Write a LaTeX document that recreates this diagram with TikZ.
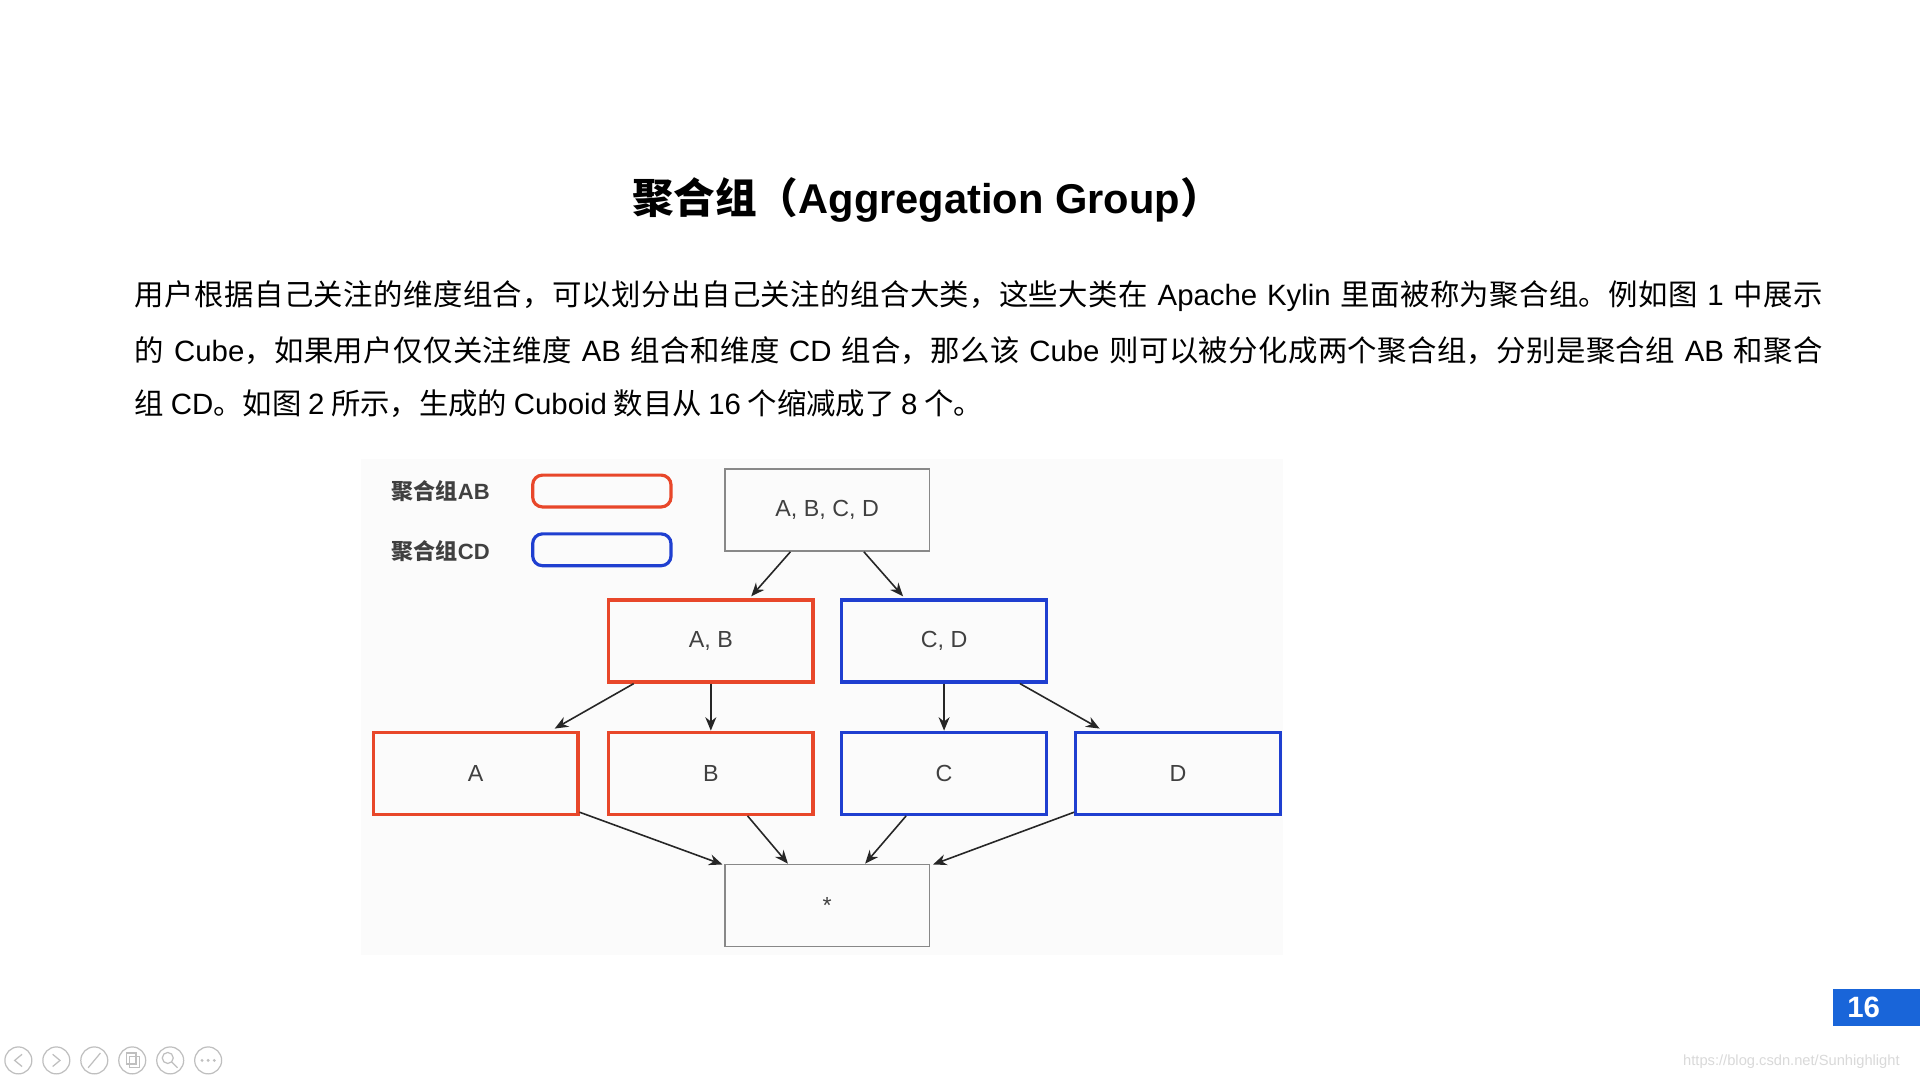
\documentclass[tikz,border=0pt]{standalone}
\usepackage{fontspec}
\setmainfont{Noto Sans CJK SC}
\newfontfamily\latinf{Liberation Sans}
\newcommand\lt[1]{{\latinf #1}}
\XeTeXlinebreaklocale "zh"
\XeTeXlinebreakskip=0pt plus 2pt
\usetikzlibrary{arrows.meta}
\definecolor{rd}{HTML}{E8472A}
\definecolor{bl}{HTML}{1F3FD0}
\definecolor{gr}{HTML}{888888}
\begin{document}
\begin{tikzpicture}[x=1pt,y=-1pt,
 box/.style={draw=#1,line width=2.6pt,minimum width=167pt,minimum height=67pt,font=\latinf\fontsize{19}{22}\selectfont,text=black!75},
 gbox/.style={draw=gr,line width=1.3pt,minimum width=167pt,minimum height=67pt,font=\latinf\fontsize{19}{22}\selectfont,text=black!75},
 arr/.style={-{Stealth[length=11pt,width=9pt]},line width=1.3pt,draw=black!85},
 para/.style={anchor=west,inner sep=0pt,font=\fontsize{24}{28}\selectfont},
 icon/.style={circle,draw=black!25,line width=1pt,minimum size=22pt,inner sep=0pt}]
\useasboundingbox (0,0) rectangle (1568,882);
\fill[white] (0,0) rectangle (1568,882);
\node[font=\bfseries\fontsize{34}{40}\selectfont] (title) at (757,163) {聚合组（\lt{\bfseries Aggregation Group}）};
\node[para,text width=1387pt] (l1) at (110,242) {\parfillskip=0pt 用户根据自己关注的维度组合，可以划分出自己关注的组合大类，这些大类在 \lt{Apache Kylin} 里面被称为聚合组。例如图 \lt{1} 中展示\par};
\node[para,text width=1387pt] (l2) at (110,286) {\parfillskip=0pt 的 \lt{Cube}，如果用户仅仅关注维度 \lt{AB} 组合和维度 \lt{CD} 组合，那么该 \lt{Cube} 则可以被分化成两个聚合组，分别是聚合组 \lt{AB} 和聚合\par};
\node[para] (l3) at (110,330) {组 \lt{CD}。如图 \lt{2} 所示，生成的 \lt{Cuboid} 数目从 \lt{16} 个缩减成了 \lt{8} 个。};
\fill[black!1.5] (295,375) rectangle (1048,780);
\node[font=\bfseries\fontsize{18}{22}\selectfont,text=black!75] (lg1) at (360,401) {聚合组\lt{\bfseries AB}};
\node[font=\bfseries\fontsize{18}{22}\selectfont,text=black!75] (lg2) at (360,450) {聚合组\lt{\bfseries CD}};
\node[draw=rd,line width=2.6pt,rounded corners=8pt,minimum width=113pt,minimum height=26pt] (r1) at (491.5,401) {};
\node[draw=bl,line width=2.6pt,rounded corners=8pt,minimum width=113pt,minimum height=26pt] (r2) at (491.5,449) {};
\node[gbox] (abcd) at (675.5,416.5) {A, B, C, D};
\node[box=rd] (ab) at (580.5,523.5) {A, B};
\node[box=bl] (cd) at (771,523.5) {C, D};
\node[box=rd] (a) at (388.5,631.5) {A};
\node[box=rd] (b) at (580.5,631.5) {B};
\node[box=bl] (c) at (771,631.5) {C};
\node[box=bl] (d) at (962,631.5) {D};
\node[gbox] (s) at (675.5,739.5) {*};
\draw[arr] ([xshift=-30pt]abcd.south) -- ([xshift=-62pt]abcd.south |- 0,487);
\draw[arr] ([xshift=30pt]abcd.south) -- ([xshift=62pt]abcd.south |- 0,487);
\draw[arr] ([xshift=-63pt]ab.south) -- (453,595);
\draw[arr] (ab.south) -- (b.north);
\draw[arr] (cd.south) -- (c.north);
\draw[arr] ([xshift=62pt]cd.south) -- (898,595);
\draw[arr] (a.south east) ++(0,-3) -- (590,706);
\draw[arr] ([xshift=30pt]b.south) -- ([xshift=-32pt]s.north);
\draw[arr] ([xshift=-31pt]c.south) -- ([xshift=31pt]s.north);
\draw[arr] (d.south west) ++(0,-3) -- (762,706);
\fill[fill=bl!80!cyan] (1497,808) rectangle (1568,838);
\node[text=white,font=\latinf\bfseries\fontsize{24}{28}\selectfont] (pg) at (1522,823) {16};
\node[text=black!15,font=\latinf\fontsize{12}{14}\selectfont] (wm) at (1463,867) {https://blog.csdn.net/Sunhighlight};
\foreach \i/\x in {1/15,2/46,3/77,4/108,5/139,6/170} \node[icon] (ic\i) at (\x,866) {};
\draw[black!25,line width=1pt] (18,861) -- (12,866) -- (18,871);
\draw[black!25,line width=1pt] (43,861) -- (49,866) -- (43,871);
\draw[black!25,line width=1pt] (72,872) -- (82,860);
\draw[black!25,line width=1pt] (103,860) rectangle (111,869) (106,863) rectangle (114,872);
\draw[black!25,line width=1pt] (137,864) circle (4.5) (140,867) -- (145,872);
\foreach \x in {165,170,175} \fill[black!25] (\x,866) circle (1.3);
\end{tikzpicture}
\end{document}
